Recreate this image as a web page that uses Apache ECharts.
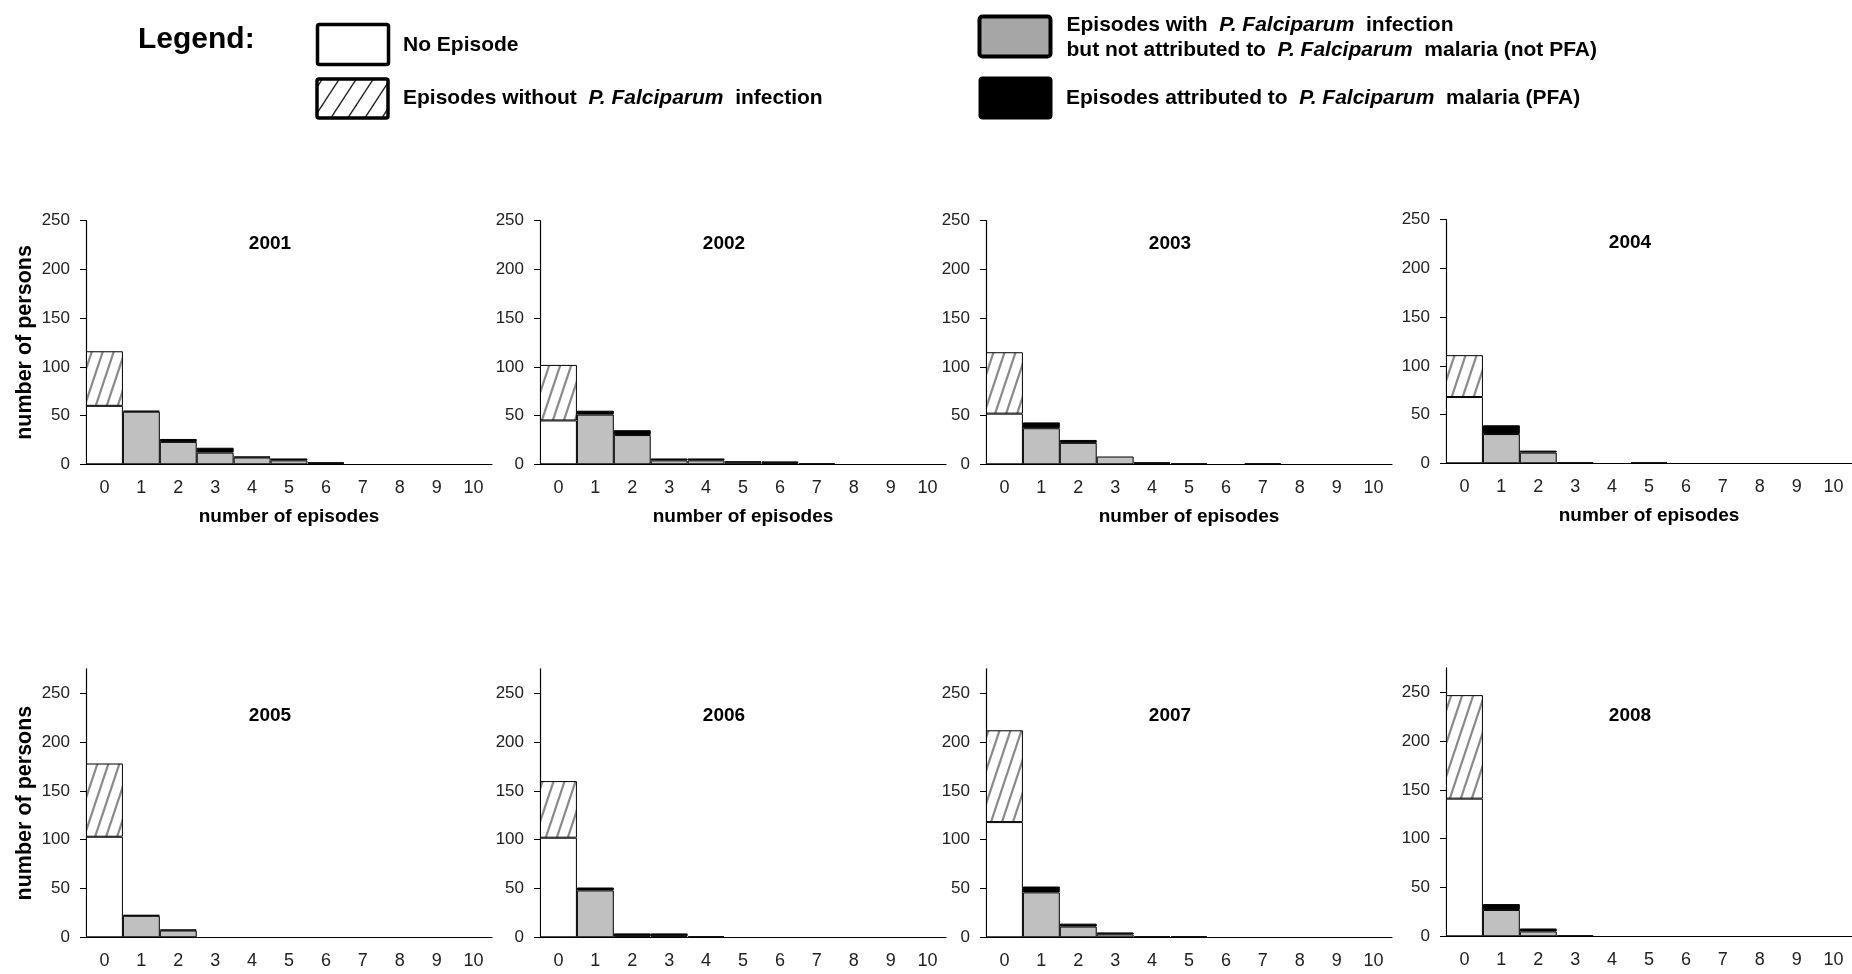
<!DOCTYPE html>
<html><head><meta charset="utf-8">
<script src="https://cdn.jsdelivr.net/npm/echarts@6/dist/echarts.min.js"></script>
<style>html,body{margin:0;padding:0;background:#fff}#c{width:1852px;height:974px}</style>
</head><body><div id="c"></div>
<script>
// ---------------- data ----------------
const categories = ['0','1','2','3','4','5','6','7','8','9','10'];
const years = ['2001','2002','2003','2004','2005','2006','2007','2008'];
const yTickValues = [0, 50, 100, 150, 200, 250];
// persons with 0 episodes
const noEpisode = [60, 45, 52, 68, 103, 102, 118, 141];
// persons whose episodes had no P. falciparum infection (stacked on bar 0)
const withoutPf = [56, 57, 63, 43, 75, 58, 94, 106];
// episodes with P. falciparum infection but not PFA, by number of episodes (0..10)
const notPfa2001 = [0, 54, 23, 12, 7, 4, 1, 0, 0, 0, 0];
const notPfa2002 = [0, 51, 30, 4, 4, 2, 1, 0, 0, 0, 0];
const notPfa2003 = [0, 37, 22, 8, 1, 1, 0, 0, 0, 0, 0];
const notPfa2004 = [0, 30, 11, 0, 0, 0, 0, 0, 0, 0, 0];
const notPfa2005 = [0, 22, 7, 0, 0, 0, 0, 0, 0, 0, 0];
const notPfa2006 = [0, 48, 1, 1, 0, 0, 0, 0, 0, 0, 0];
const notPfa2007 = [0, 46, 11, 3, 0, 0, 0, 0, 0, 0, 0];
const notPfa2008 = [0, 27, 5, 0, 0, 0, 0, 0, 0, 0, 0];
// episodes attributed to P. falciparum malaria (PFA)
const pfa2001 = [0, 1, 3, 5, 1, 2, 1, 0, 0, 0, 0];
const pfa2002 = [0, 4, 5, 2, 2, 1, 2, 1, 0, 0, 0];
const pfa2003 = [0, 6, 3, 0, 1, 0, 0, 1, 0, 0, 0];
const pfa2004 = [0, 9, 2, 1, 0, 1, 0, 0, 0, 0, 0];
const pfa2005 = [0, 1, 1, 0, 0, 0, 0, 0, 0, 0, 0];
const pfa2006 = [0, 3, 3, 3, 1, 0, 0, 0, 0, 0, 0];
const pfa2007 = [0, 6, 3, 2, 1, 1, 0, 0, 0, 0, 0];
const pfa2008 = [0, 6, 3, 1, 0, 0, 0, 0, 0, 0, 0];
const notPfa = [notPfa2001, notPfa2002, notPfa2003, notPfa2004, notPfa2005, notPfa2006, notPfa2007, notPfa2008];
const pfa = [pfa2001, pfa2002, pfa2003, pfa2004, pfa2005, pfa2006, pfa2007, pfa2008];
const yName = 'number of persons';
const xName = 'number of episodes';

// ---------------- layout ----------------
const FONT = "'Liberation Sans', Arial, Helvetica, sans-serif";
const colLeft = [86, 540, 986, 1446];
const rowTop = [220.7, 668.8];
const rowBottom = [464.3, 937.3];
const rowMax = [250, 275];
const panelShift = [0, 0, 0, -1, 0, 0, 0, -1];
const gridWidth = 406;

function hatch(w, h, color, lw) {
  const c = document.createElement('canvas');
  c.width = w; c.height = h;
  const g = c.getContext('2d');
  g.fillStyle = '#fff'; g.fillRect(0, 0, w, h);
  g.strokeStyle = color; g.lineWidth = lw;
  for (const k of [-1, 0, 1]) {
    g.beginPath();
    g.moveTo(-w, h + k * h + h);
    g.lineTo(2 * w, h + k * h - 2 * h);
    g.stroke();
  }
  return c;
}
const panelHatch = { image: hatch(11, 33, '#8a8a8a', 2.2), repeat: 'repeat' };
const legendHatch = { image: hatch(17, 26, '#222', 1.4), repeat: 'repeat' };

const dash = v => (v === 0 ? '-' : v);

const grids = [], xAxes = [], yAxes = [], series = [], titles = [];
years.forEach((yr, k) => {
  const row = k < 4 ? 0 : 1, col = k % 4;
  const top = rowTop[row] + panelShift[k];
  const height = rowBottom[row] - rowTop[row];
  grids.push({ left: colLeft[col], top: top, width: gridWidth, height: height, containLabel: false });
  xAxes.push({
    type: 'category', gridIndex: k, data: categories,
    axisLine: { lineStyle: { color: '#000', width: 1.2 } },
    axisTick: { show: false },
    axisLabel: { fontSize: 18, color: '#222', margin: 15, fontFamily: FONT, interval: 0 },
    name: row === 0 ? xName : '', nameLocation: 'middle', nameGap: 43,
    nameTextStyle: { fontSize: 19, fontWeight: 'bold', color: '#000', fontFamily: FONT }
  });
  yAxes.push({
    type: 'value', gridIndex: k, min: 0, max: rowMax[row], interval: 50,
    axisLine: { show: true, lineStyle: { color: '#000', width: 1.2 } },
    axisTick: { show: true, length: 6, lineStyle: { color: '#000' }, customValues: yTickValues },
    axisLabel: { fontSize: 17, color: '#222', margin: 16, fontFamily: FONT, customValues: yTickValues },
    splitLine: { show: false },
    name: (col === 0 && row === 0) ? yName : '', nameLocation: 'middle', nameGap: 50,
    nameTextStyle: { fontSize: 21.5, fontWeight: 'bold', color: '#000', fontFamily: FONT }
  });
  titles.push({
    text: yr, left: colLeft[col] + 184, top: (row === 0 ? 233.3 : 706) + panelShift[k] * 0.5,
    textAlign: 'center', padding: 0,
    textStyle: { fontSize: 19, fontWeight: 'bold', color: '#000', fontFamily: FONT, lineHeight: 20 }
  });
  const base = { type: 'bar', xAxisIndex: k, yAxisIndex: k, stack: 'p' + k, barCategoryGap: '0%', barGap: '0%', silent: true };
  series.push(Object.assign({}, base, {
    name: 'No Episode',
    data: categories.map((c, i) => (i === 0 ? noEpisode[k] : '-')),
    itemStyle: { color: '#fff', borderColor: '#000', borderWidth: 1 }
  }));
  series.push(Object.assign({}, base, {
    name: 'Episodes without P. Falciparum infection',
    data: categories.map((c, i) => (i === 0 ? withoutPf[k] : '-')),
    itemStyle: { color: panelHatch, borderColor: '#000', borderWidth: 1 }
  }));
  series.push(Object.assign({}, base, {
    name: 'not PFA',
    data: notPfa[k].map(dash),
    itemStyle: { color: '#c0c0c0', borderColor: '#000', borderWidth: 1 }
  }));
  series.push(Object.assign({}, base, {
    name: 'PFA',
    data: pfa[k].map(dash),
    itemStyle: { color: '#000', borderColor: '#000', borderWidth: 1 }
  }));
});
// extra axis carrying the y name of the bottom row, centred on the 0-250 range
yAxes.push({
  type: 'value', gridIndex: 4, min: 0, max: 250, position: 'left',
  axisLine: { show: false }, axisTick: { show: false }, axisLabel: { show: false }, splitLine: { show: false },
  name: yName, nameLocation: 'middle', nameGap: 50,
  nameTextStyle: { fontSize: 21.5, fontWeight: 'bold', color: '#000', fontFamily: FONT }
});

const rich = {
  b: { fontSize: 21, fontWeight: 'bold', fontFamily: FONT, fill: '#000', lineHeight: 25 },
  i: { fontSize: 21, fontWeight: 'bold', fontStyle: 'italic', fontFamily: FONT, fill: '#000', lineHeight: 25 }
};
const graphic = [
  { type: 'text', x: 138, y: 39.5, style: { text: 'Legend:', fontSize: 30, fontWeight: 'bold', fontFamily: FONT, fill: '#000', align: 'left', verticalAlign: 'middle' } },
  { type: 'rect', shape: { x: 317.5, y: 24.5, width: 71, height: 40, r: 2 }, style: { fill: '#fff', stroke: '#000', lineWidth: 3.5 } },
  { type: 'text', x: 403, y: 45, style: { text: 'No Episode', fontSize: 21, fontWeight: 'bold', fontFamily: FONT, fill: '#000', align: 'left', verticalAlign: 'middle' } },
  { type: 'rect', shape: { x: 317, y: 79, width: 71, height: 39, r: 2 }, style: { fill: legendHatch, stroke: '#000', lineWidth: 3.5 } },
  { type: 'text', x: 403, y: 98.5, style: { text: '{b|Episodes without  }{i|P. Falciparum}{b|  infection}', rich: rich, align: 'left', verticalAlign: 'middle' } },
  { type: 'rect', shape: { x: 979.5, y: 16.5, width: 71, height: 40, r: 3 }, style: { fill: '#a6a6a6', stroke: '#000', lineWidth: 4 } },
  { type: 'text', x: 1066.5, y: 37.5, style: { text: '{b|Episodes with  }{i|P. Falciparum}{b|  infection}\n{b|but not attributed to  }{i|P. Falciparum}{b|  malaria (not PFA)}', rich: rich, align: 'left', verticalAlign: 'middle' } },
  { type: 'rect', shape: { x: 979, y: 77, width: 73, height: 42, r: 3 }, style: { fill: '#000', stroke: '#000', lineWidth: 1 } },
  { type: 'text', x: 1066, y: 98.5, style: { text: '{b|Episodes attributed to  }{i|P. Falciparum}{b|  malaria (PFA)}', rich: rich, align: 'left', verticalAlign: 'middle' } }
];

const chart = echarts.init(document.getElementById('c'), null, { renderer: 'canvas' });
chart.setOption({
  backgroundColor: '#fff',
  animation: false,
  title: titles,
  grid: grids,
  xAxis: xAxes,
  yAxis: yAxes,
  series: series,
  graphic: graphic
});
</script>
</body></html>
